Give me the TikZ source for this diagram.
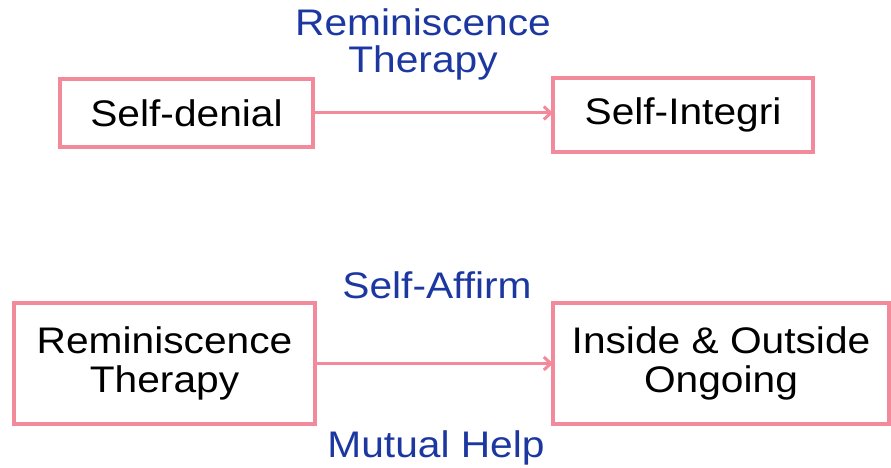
\documentclass[tikz,border=0pt]{standalone}
\usepackage{fontspec}
\setmainfont{Liberation Sans}[FakeStretch=1.1]
\usepackage{xcolor}
\usetikzlibrary{arrows.meta}
\definecolor{boxpink}{RGB}{242,138,155}
\definecolor{labelblue}{RGB}{28,56,160}

\begin{document}
\begin{tikzpicture}[x=1pt,y=1pt,
    stagebox/.style={draw=boxpink,line width=3.5pt,inner sep=0pt,outer sep=0pt,align=center,font=\fontsize{37}{39}\selectfont},
    pathlabel/.style={text=labelblue,align=center,inner sep=0pt,font=\fontsize{37}{37}\selectfont},
    flow/.style={draw=boxpink,line width=3pt,-{Straight Barb[length=7pt,width=13pt]}}]
        \useasboundingbox (0,0) rectangle (891,468);
        \node[stagebox,minimum width=253,minimum height=68] (selfdenial) at (186.5,355) {Self-denial};
        \node[stagebox,minimum width=260,minimum height=74] (selfintegri) at (683,353) {Self-Integri};
        \node[stagebox,minimum width=301,minimum height=121] (reminis) at (164.5,104.5) {Reminiscence\\Therapy};
        \node[stagebox,minimum width=336,minimum height=121] (ongoing) at (721,104.5) {Inside \& Outside\\Ongoing};
        \node[pathlabel,anchor=base] (therapylbl) at (423,395) {Reminiscence\\Therapy};
        \node[pathlabel,anchor=base] (affirmlbl) at (437,169) {Self-Affirm};
        \node[pathlabel,anchor=base] (helplbl) at (436,10) {Mutual Help};
        \draw[flow] (selfdenial.east) -- (selfdenial.east -| selfintegri.west);
        \draw[flow] (reminis.east) -- (ongoing.west);
    \end{tikzpicture}
\end{document}
